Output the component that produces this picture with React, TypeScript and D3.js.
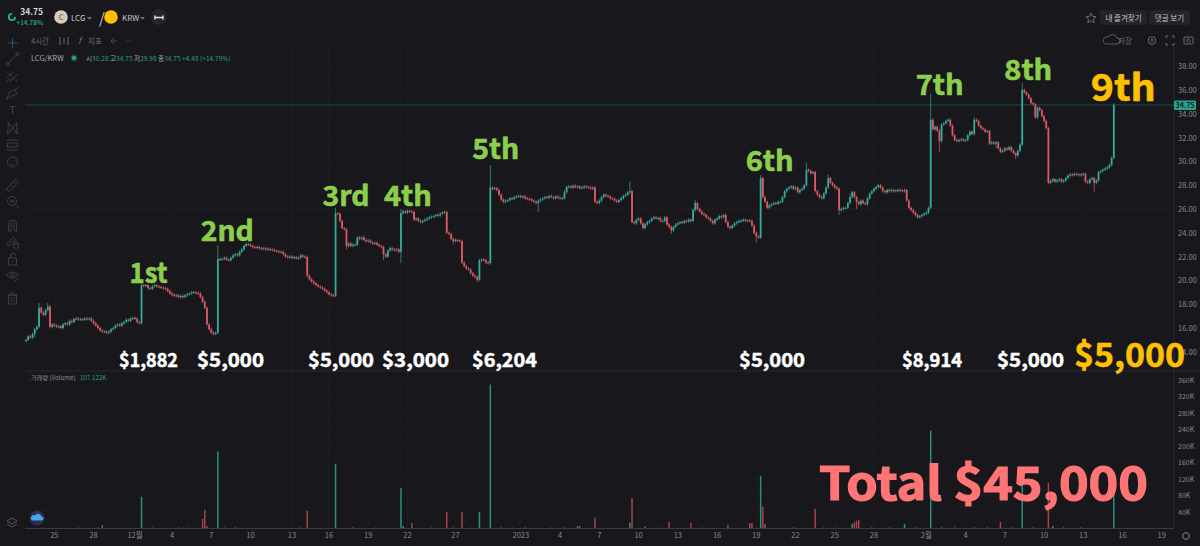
import React from "react";
import * as d3 from "d3";

// 4h closes, one run per buy (the big green candle starts each run)
const closesStart = [
  15.0, 15.3, 15.2, 15.5, 15.9, 16.1, 17.7, 17.3, 17.1, 17.5, 17.8, 16.1, 16.3, 16.2, 16.1, 16.15, 16.0, 16.3, 16.4, 16.3,
  16.6, 16.5, 16.75, 16.8, 16.7, 16.75, 16.7, 16.8, 16.75, 16.8, 16.6, 16.4, 16.2, 16.0, 15.8, 15.7, 15.7, 15.6, 15.7, 15.9,
  16.0, 16.2, 16.3, 16.2, 16.4, 16.5, 16.7, 16.6, 16.8, 16.85, 16.8, 16.5, 16.4,
];
const closesAfter1st = [
  19.6, 19.55, 19.6, 19.35, 19.3, 19.5, 19.6, 19.5, 19.45, 19.4, 19.35, 19.3, 19.1, 18.9, 18.8, 18.7, 18.75, 18.6, 18.7, 18.6,
  18.75, 18.85, 18.9, 19.0, 19.0, 18.95, 18.9, 18.6, 18.2, 17.7, 16.3, 15.9, 15.6, 15.5, 15.6,
];
const closesAfter2nd = [
  21.8, 21.75, 21.8, 21.9, 21.75, 21.7, 21.9, 22.1, 22.2, 22.1, 22.4, 22.6, 22.9, 23.05, 23.0, 22.9, 22.8, 22.75, 22.8, 22.7,
  22.65, 22.7, 22.6, 22.65, 22.6, 22.55, 22.5, 22.45, 22.4, 22.4, 22.2, 22.0, 21.95, 22.0, 21.9, 21.95, 21.85, 21.9, 22.1, 22.0,
  21.95, 20.4, 20.1, 19.9, 19.75, 19.6, 19.5, 19.4, 19.3, 19.15, 19.0, 18.85, 18.75, 18.7,
];
const closesAfter3rd = [
  25.65, 25.6, 25.0, 24.4, 24.3, 22.9, 23.1, 22.9, 23.0, 23.0, 23.6, 23.5, 23.6, 23.4, 23.3, 23.35, 23.2, 23.1, 23.15, 23.0,
  22.9, 22.8, 22.2, 22.0, 22.5, 22.7, 22.6, 22.55, 22.6, 22.4,
];
const closesAfter4th = [
  25.65, 25.8, 25.7, 25.85, 25.8, 25.75, 25.1, 25.2, 25.0, 24.9, 25.0, 25.1, 25.2, 25.3, 25.35, 25.4, 25.5, 25.45, 25.6, 25.7,
  25.75, 24.0, 23.9, 23.5, 23.3, 23.4, 23.35, 23.3, 21.5, 21.2, 21.0, 20.9, 20.6, 20.4, 20.3, 20.05, 21.7, 21.75, 21.7, 21.5,
  21.45,
];
const closesAfter5th = [
  27.8, 27.7, 27.75, 27.6, 27.2, 26.8, 26.6, 26.7, 26.75, 26.9, 26.85, 27.0, 27.05, 27.1, 27.0, 27.05, 26.9, 26.85, 26.8, 26.7,
  26.6, 26.5, 26.7, 26.8, 26.9, 27.0, 26.95, 27.1, 27.0, 26.9, 27.05, 26.95, 26.9, 26.9, 27.4, 27.85, 27.9, 27.8, 27.95, 27.85,
  27.9, 27.75, 27.8, 27.9, 27.85, 27.8, 27.7, 27.8, 26.6, 26.5, 26.7, 27.0, 27.2, 27.1, 27.05, 26.9, 26.85, 26.7, 26.6, 26.75,
  26.9, 27.1, 27.2, 27.4, 27.5, 24.9, 24.8, 25.1, 25.2, 24.8, 24.4, 24.7, 24.9, 25.0, 25.2, 25.3, 25.2, 25.25, 25.0, 25.0,
  25.3, 24.7, 24.5, 24.2, 24.5, 24.7, 24.8, 24.9, 24.85, 25.0, 24.95, 25.1, 25.0, 25.9, 26.5, 26.0, 25.8, 25.6, 25.5, 25.3,
  25.2, 25.0, 24.8, 25.1, 25.2, 25.4, 25.3, 25.5, 24.9, 24.5, 24.4, 24.6, 24.8, 24.9, 25.0, 25.0, 25.1, 25.0, 25.05, 25.0,
  24.6, 24.0, 23.7, 23.6,
];
const closesAfter6th = [
  28.6, 27.0, 26.6, 26.1, 26.3, 26.4, 26.5, 26.45, 26.6, 26.6, 27.0, 27.5, 27.7, 27.8, 27.9, 27.7, 27.8, 27.4, 27.6, 27.7,
  28.0, 29.3, 29.2, 29.0, 29.1, 27.5, 27.2, 27.0, 26.9, 27.3, 27.8, 28.6, 28.2, 28.0, 27.8, 27.7, 25.9, 26.0, 26.1, 26.1,
  26.5, 27.0, 27.4, 27.0, 26.6, 26.4, 26.7, 26.5, 26.4, 26.9, 27.3, 27.5, 27.7, 27.85, 28.0, 27.8, 27.5, 27.4, 27.6, 27.5,
  27.6, 27.5, 27.55, 27.6, 27.55, 27.5, 27.6, 26.7, 26.1, 25.9, 25.7, 25.5, 25.3, 25.4, 25.5, 25.6, 25.7, 26.1,
];
const closesAfter7th = [
  33.5, 32.7, 32.9, 32.6, 31.7, 33.1, 33.2, 33.4, 33.5, 33.0, 32.2, 31.8, 31.7, 31.8, 31.85, 31.75, 31.8, 32.2, 32.5, 32.3,
  33.5, 33.4, 33.0, 32.8, 32.7, 32.5, 32.55, 31.5, 31.6, 31.5, 31.6, 31.1, 30.8, 30.9, 31.1, 31.0, 31.2, 30.9, 30.7, 30.5,
  30.9, 31.4,
];
const closesAfter8th = [
  36.0, 35.8, 35.6, 35.3, 34.9, 34.8, 33.7, 34.5, 34.3, 33.8, 33.4, 32.8, 28.2, 28.35, 28.5, 28.3, 28.4, 28.5, 28.3, 28.4,
  28.6, 28.8, 28.9, 28.85, 28.95, 28.9, 28.85, 28.9, 28.95, 28.3, 28.2, 28.5, 28.6, 28.2, 28.4, 29.1, 29.2, 29.3, 29.4, 29.5,
  29.7, 30.3, 34.75,
];
const closes = [
  ...closesStart, ...closesAfter1st, ...closesAfter2nd, ...closesAfter3rd, ...closesAfter4th,
  ...closesAfter5th, ...closesAfter6th, ...closesAfter7th, ...closesAfter8th,
];

// long wicks only, [bar, price]
const longHighs = [
  [6, 18.1], [10, 18.1], [53, 19.75], [88, 22.95], [142, 26.1], [172, 26.0], [213, 29.7], [277, 28.3], [307, 26.75],
  [337, 28.85], [358, 29.9], [368, 28.9], [415, 35.7], [435, 33.7], [457, 36.6], [155, 23.8], [247, 27.6], [378, 27.3],
];
const longLows = [
  [164, 21.7], [172, 21.45], [196, 23.0], [207, 19.85], [235, 25.75], [296, 23.9], [335, 23.15], [373, 25.5], [419, 30.8],
  [454, 30.2], [490, 27.4], [147, 22.6], [4, 15.2], [381, 26.0], [445, 31.1],
];

// volume spikes, [bar, value]
const volumeSpikes = [
  [35, 7000], [53, 76000], [81, 22000], [82, 44000], [83, 5000], [88, 186000], [129, 42000], [142, 156000], [172, 97000],
  [173, 5000], [177, 12000], [193, 39000], [200, 39000], [208, 39000], [213, 349000], [253, 5000], [254, 5000], [261, 25000],
  [277, 13000], [278, 73000], [284, 4000], [295, 15000], [305, 12000], [322, 8000], [332, 12000], [333, 12000], [337, 127000],
  [338, 52000], [339, 10000], [362, 47000], [379, 10000], [380, 14000], [381, 18000], [382, 20000], [403, 10000], [415, 237000],
  [447, 15000], [457, 110000], [469, 110000], [471, 5000], [499, 92000],
];
// the small stuff along the floor of the volume pane
const volumeSmall = [
  [8, 1500], [24, 2000], [33, 1500], [58, 2000], [64, 1200], [70, 2500], [74, 1500], [91, 2000], [96, 2500], [110, 1200],
  [126, 1800], [136, 1500], [150, 2200], [160, 1400], [186, 1800], [196, 3500], [204, 1500], [218, 2800], [223, 2500], [229, 3000],
  [241, 1800], [247, 2000], [268, 1200], [290, 1500], [310, 2000], [344, 1800], [352, 2500], [366, 2200], [372, 2000], [388, 2800],
  [396, 2200], [408, 3000], [420, 3200], [426, 3500], [435, 2500], [441, 3000], [452, 2800], [462, 2500], [476, 3000], [484, 2200],
];

const priceTicks = [14, 16, 18, 20, 22, 24, 26, 28, 30, 32, 34, 36, 38];
const volumeTicks = [40000, 80000, 120000, 160000, 200000, 240000, 280000, 320000, 360000];
const timeLabels = [
  "25", "28", "12월", "4", "7", "10", "13", "16", "19", "22", "27", "2023", "4", "7",
  "10", "13", "16", "19", "22", "25", "28", "2월", "4", "7", "10", "13", "16", "19",
];
const timeBars = [13, 31, 50, 67, 85, 103, 122, 139, 157, 175, 197, 227, 245, 263, 281, 299, 317, 335, 353, 371, 389, 413, 431, 449, 467, 485, 503, 521];

const buyBars = [53, 88, 142, 172, 213, 337, 415, 457, 499];
const buyNames = ["1st", "2nd", "3rd", "4th", "5th", "6th", "7th", "8th", "9th"];
const buyAmounts = ["$1,882", "$5,000", "$5,000", "$3,000", "$6,204", "$5,000", "$8,914", "$5,000", "$5,000"];
const lastPrice = 34.75;

const W = 1200;
const H = 546;
const plotLeft = 25;
const plotRight = 1174;
const UP = "#35ab9d";
const DOWN = "#dc5a63";
const GRID = "#202025";
const GREY = "#6c6c72";
const ICON = "#47474d";
const GREEN_TXT = "#8ccf4d";
const GOLD = "#ffc000";
const SANS = "'Noto Sans CJK KR', 'Noto Sans', sans-serif";

const x = d3.scaleLinear().domain([0, 499]).range([26, 1113.8]);
const yPrice = d3.scaleLinear().domain([16, 38]).range([328, 66.2]);
const yVol = d3.scaleLinear().domain([0, 360000]).range([528, 380]);

const candles = closes.map((close, i) => {
  const open = i === 0 ? 14.9 : closes[i - 1];
  const hi = longHighs.find((d) => d[0] === i);
  const lo = longLows.find((d) => d[0] === i);
  return {
    i,
    open,
    close,
    high: hi ? hi[1] : Math.max(open, close) + 0.12,
    low: lo ? lo[1] : Math.min(open, close) - 0.12,
    up: close >= open,
  };
});

// where each callout sits: left edge relative to its candle, baseline, painted width
const nameDx = [-12, -17, -13, -17, -18, -15, -15, -18, -23];
const nameY = [283, 241, 206, 206, 159, 171, 95, 80, 101];
const nameWidth = [38, 53, 47, 48, 47, 48, 48, 48, 65];
const amountLeft = [119, 197, 308, 382, 472, 739, 902, 997, 1074];
const amountWidth = [59, 67, 66, 67, 65, 66, 60, 67, 111];

// left tool strip, one small glyph per row, drawn around (0,0)
const toolRows = [
  { y: 59, d: "M-5 5L5-5M-6.5 5a1.5 1.5 0 1 0 3 0a1.5 1.5 0 1 0-3 0M3.5-5a1.5 1.5 0 1 0 3 0a1.5 1.5 0 1 0-3 0" },
  { y: 77, d: "M-6 1L1-5M-3 5L5-3M-4-4L5 5M-6 5L-2 1" },
  { y: 93, d: "M-6 6L-3-1L2-3L5 1L-1 3zM2-3L6-6" },
  { y: 128, d: "M-5 6L-4-5L0 0L4-5L5 6M-4-5L-5-6M4-5L5-6M-5 6L0 0L5 6" },
  { y: 145, d: "M-6-5H6M-6 5H6M-5-2H5V2H-5z" },
  { y: 162, d: "M-5 0a5 5 0 1 0 10 0a5 5 0 1 0-10 0M-2-1h1M1-1h1M-2 2q2 2 4 0" },
  { y: 185, d: "M-6 4L3-6L6-3L-3 7zM-2 0L0 2M1-3L3-1" },
  { y: 202, d: "M-5-1a4.5 4.5 0 1 0 9 0a4.5 4.5 0 1 0-9 0M3 3L6 6M-2.5-1h5M-.5-3v4" },
  { y: 225, d: "M-4 6V-1a4 4 0 0 1 8 0V6H1.5V-1a1.5 1.5 0 0 0-3 0V6z" },
  { y: 242, d: "M-6 2L1-5L3-3L-4 4zM1 2h5v4H1zM2 2V0.5a1.5 1.5 0 0 1 3 0V2" },
  { y: 259, d: "M-4-1h8v7H-4zM-2-1v-2a2.5 2.5 0 0 1 5-.5M0 1.5v2" },
  { y: 275, d: "M-6 0q6-6 12 0q-6 6-12 0M-1.5 0a1.5 1.5 0 1 0 3 0a1.5 1.5 0 1 0-3 0M2 6L6 4" },
  { y: 298, d: "M-4-3h8v9H-4zM-5-3H5M-2-5h4M-1.5-1v5M1.5-1v5" },
];

function Candles() {
  return (
    <g>
      {candles.map((c) => {
        const color = c.up ? UP : DOWN;
        const top = yPrice(Math.max(c.open, c.close));
        const bottom = yPrice(Math.min(c.open, c.close));
        return (
          <g key={c.i}>
            <line x1={x(c.i)} x2={x(c.i)} y1={yPrice(c.high)} y2={yPrice(c.low)} stroke={color} strokeWidth={0.7} />
            <rect x={x(c.i) - 0.9} y={top} width={1.8} height={Math.max(bottom - top, 1)} fill={color} />
          </g>
        );
      })}
    </g>
  );
}

function Volumes() {
  const rows = [...volumeSmall, ...volumeSpikes];
  return (
    <g>
      {rows.map(([bar, v], k) => (
        <rect
          key={k}
          x={x(bar) - 0.75}
          y={yVol(v)}
          width={1.5}
          height={yVol(0) - yVol(v)}
          fill={candles[bar].up ? "#2b8f84" : "#a5444d"}
          opacity={v < 4000 ? 0.55 : 1}
        />
      ))}
    </g>
  );
}

function Toolbars() {
  return (
    <g fontFamily={SANS}>
      {/* top row */}
      <circle cx={12} cy={17} r={3.2} fill="none" stroke="#25b08f" strokeWidth={1.8} strokeDasharray="15 5" />
      <text x={43} y={15} textAnchor="end" fontSize={8.5} fontWeight={700} fill="#d8d8dc">34.75</text>
      <text x={43} y={25} textAnchor="end" fontSize={6.5} fontWeight={500} fill="#25b08f">+14.78%</text>
      <circle cx={61} cy={17} r={6.8} fill="#d9ccb8" />
      <text x={61} y={20} textAnchor="middle" fontSize={8} fontWeight={700} fill="#8e7f68">C</text>
      <text x={71} y={21} fontSize={8} fill="#c8c8cc">LCG</text>
      <path d="M87 17h5l-2.5 3z" fill={GREY} />
      <text x={99} y={24} fontSize={15} fill="#c8c8cc">/</text>
      <circle cx={111} cy={17} r={6.8} fill={GOLD} />
      <text x={122} y={21} fontSize={8} fill="#c8c8cc">KRW</text>
      <path d="M140 17h5l-2.5 3z" fill={GREY} />
      <circle cx={159} cy={17} r={8} fill="#26262b" />
      <path d="M155 17.5h8M155 15.5v4M163 15.5v4" stroke="#e4e4e8" strokeWidth={1.4} fill="none" />
      {/* top right */}
      <path d="M1091 13l1.5 3.4 3.6.4-2.7 2.4.8 3.6-3.2-1.9-3.2 1.9.8-3.6-2.7-2.4 3.6-.4z" fill="none" stroke={GREY} />
      <rect x={1100} y={10} width={47} height={15} rx={3} fill="#232328" />
      <text x={1123.5} y={20.5} textAnchor="middle" fontSize={7.5} fill="#c4c4c8">내 즐겨찾기</text>
      <rect x={1149} y={10} width={41} height={15} rx={3} fill="#232328" />
      <text x={1169.5} y={20.5} textAnchor="middle" fontSize={7.5} fill="#c4c4c8">댓글 보기</text>
      {/* second row */}
      <text x={31} y={44} fontSize={7.5} fill={GREY}>4시간</text>
      <path d="M60 37v8M64 38v6M68 37v8" stroke={GREY} fill="none" />
      <text x={78} y={44} fontSize={9} fontStyle="italic" fill={GREY}>f</text>
      <text x={88} y={44} fontSize={7.5} fill={GREY}>지표</text>
      <path d="M111 41h6M111 41l3-3M111 41l3 3" stroke="#4c4c52" fill="none" />
      <path d="M131 41h-5" stroke="#333338" fill="none" />
      <path d="M1106 44h11a3 3 0 0 0 0-6 5 5 0 0 0-9-1 3.5 3.5 0 0 0-2 7z" fill="none" stroke={GREY} strokeWidth={0.8} />
      <text x={1118} y={44} fontSize={7.5} fill={GREY}>저장</text>
      <circle cx={1152} cy={40.5} r={3.8} fill="none" stroke={GREY} />
      <circle cx={1152} cy={40.5} r={1.2} fill="none" stroke={GREY} />
      <path d="M1166 38v-2h2M1172 36h2v2M1174 43v2h-2M1168 45h-2v-2" fill="none" stroke={GREY} />
      <rect x={1184} y={37} width={9} height={7} rx={1} fill="none" stroke={GREY} />
      <circle cx={1188.5} cy={40.5} r={1.6} fill="none" stroke={GREY} />
      {/* legend */}
      <text x={31} y={61} fontSize={7.5} fill="#a6a6ac">LCG/KRW</text>
      <circle cx={74} cy={58} r={2} fill="#25b08f" />
      <circle cx={74} cy={58} r={3.4} fill="#25b08f" opacity={0.3} />
      <text x={86} y={61} fontSize={6.6} fill="#a6a6ac">
        시<tspan fill="#2a9d8f">30.28 </tspan>고<tspan fill="#2a9d8f">34.75 </tspan>저<tspan fill="#2a9d8f">29.98 </tspan>종<tspan fill="#2a9d8f">34.75 +4.48 (+14.79%)</tspan>
      </text>
      <text x={31} y={380} fontSize={6.2} fill="#8a8a90">거래량 (Volume)</text>
      <text x={80} y={380} fontSize={6.2} fill="#2a9d8f">107.122K</text>
      {/* left tools */}
      <path d="M7.5 43h10M12.5 38v10" stroke="#31506f" fill="none" />
      {toolRows.map((row) => (
        <path key={row.y} transform={`translate(12.5,${row.y})`} d={row.d} stroke={ICON} fill="none" strokeWidth={0.8} />
      ))}
      <text x={12.5} y={114} textAnchor="middle" fontSize={11} fill={ICON}>T</text>
      <circle cx={37} cy={518} r={7.5} fill="#2b2f4a" />
      <path d="M32.5 520.5h9a2 2 0 0 0 0-4 3.5 3.5 0 0 0-6.5-1 2.6 2.6 0 0 0-2.5 5z" fill="#3fa8f0" />
      <path d="M12 518l5 3-5 3-5-3zM7 524l5 3 5-3" fill="none" stroke="#55555b" />
      <circle cx={1186} cy={536} r={3.4} fill="none" stroke="#85858b" />
    </g>
  );
}

export default function App() {
  return (
    <svg width={W} height={H} style={{ position: "absolute", left: 0, top: 0, display: "block" }} fontFamily={SANS}>
      <rect width={W} height={H} fill="#17171c" />

      {/* grid */}
      {timeBars.map((b, i) => (
        <line key={i} x1={x(b)} x2={x(b)} y1={47} y2={528} stroke={GRID} strokeWidth={0.7} />
      ))}
      {priceTicks.map((t) => (
        <line key={t} x1={plotLeft} x2={plotRight} y1={yPrice(t)} y2={yPrice(t)} stroke={GRID} strokeWidth={0.7} />
      ))}
      {volumeTicks.map((t) => (
        <line key={t} x1={plotLeft} x2={plotRight} y1={yVol(t)} y2={yVol(t)} stroke={GRID} strokeWidth={0.7} />
      ))}
      <line x1={plotLeft} x2={W} y1={371} y2={371} stroke="#29292f" />
      <line x1={plotRight} x2={plotRight} y1={47} y2={528} stroke="#29292f" />
      <line x1={plotLeft} x2={plotRight} y1={528.5} y2={528.5} stroke="#3a3a40" />

      <line x1={plotLeft} x2={plotRight} y1={yPrice(lastPrice)} y2={yPrice(lastPrice)} stroke="#1b4d47" />
      <Candles />
      <Volumes />

      {/* axes */}
      {priceTicks.map((t) => (
        <text key={t} x={1178} y={yPrice(t) + 3} fontSize={7.5} fill="#8a8a90">{t.toFixed(2)}</text>
      ))}
      {volumeTicks.map((t) => (
        <text key={t} x={1178} y={yVol(t) + 3} fontSize={7} fill="#8a8a90">{`${t / 1000}K`}</text>
      ))}
      {timeLabels.map((label, i) => (
        <text key={i} x={x(timeBars[i])} y={538} textAnchor="middle" fontSize={7.5} fill="#8a8a90">{label}</text>
      ))}
      <rect x={1174} y={100.5} width={22} height={9.5} rx={1} fill="#2aa190" />
      <text x={1185} y={108} textAnchor="middle" fontSize={7} fontWeight={700} fill="#10201f">{lastPrice.toFixed(2)}</text>

      <Toolbars />

      {/* callouts */}
      {buyBars.map((bar, i) => (
        <text
          key={buyNames[i]}
          x={x(bar) + nameDx[i]}
          y={nameY[i]}
          fontSize={i === 8 ? 37 : 28}
          fontWeight={700}
          textLength={nameWidth[i]}
          lengthAdjust="spacingAndGlyphs"
          fill={i === 8 ? GOLD : GREEN_TXT}
          stroke={i === 8 ? GOLD : GREEN_TXT}
          strokeWidth={0.6}
        >
          {buyNames[i]}
        </text>
      ))}
      {buyAmounts.map((amount, i) => (
        <text
          key={i}
          x={amountLeft[i]}
          y={367}
          fontSize={i === 8 ? 33 : 19}
          fontWeight={700}
          textLength={amountWidth[i]}
          lengthAdjust="spacingAndGlyphs"
          fill={i === 8 ? GOLD : "#ffffff"}
          stroke={i === 8 ? GOLD : "#ffffff"}
          strokeWidth={0.5}
        >
          {amount}
        </text>
      ))}
      <text
        x={819}
        y={500}
        fontSize={46}
        fontWeight={700}
        textLength={329}
        lengthAdjust="spacingAndGlyphs"
        fill="#ff7575"
        stroke="#ff7575"
        strokeWidth={1.2}
      >
        Total $45,000
      </text>
    </svg>
  );
}
